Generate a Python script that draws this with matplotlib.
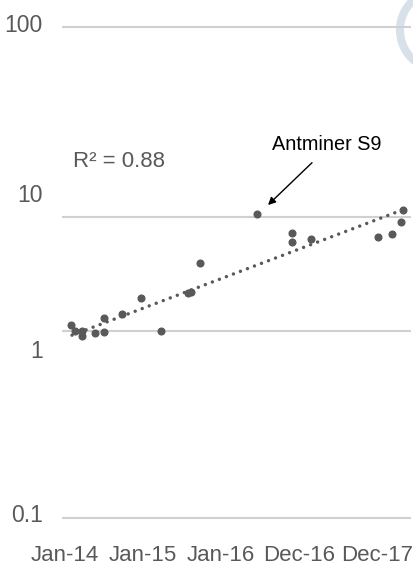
import matplotlib
matplotlib.use("Agg")
import matplotlib.pyplot as plt
from matplotlib.patches import Ellipse
import numpy as np
import pandas as pd

# miner efficiency points
dates = ["2014-01-29", "2014-02-17", "2014-03-20", "2014-03-23", "2014-05-21",
         "2014-07-04", "2014-07-04", "2014-09-23", "2014-12-23", "2015-03-26",
         "2015-07-30", "2015-08-13", "2015-09-25", "2016-06-16", "2016-11-27",
         "2016-11-27", "2017-02-25", "2018-01-06", "2018-03-10", "2018-04-21",
         "2018-05-03"]
values = [1.14, 1.00, 1.00, 0.94, 0.97,
          0.99, 1.30, 1.42, 1.93, 1.00,
          2.15, 2.21, 3.91, 10.3, 7.24,
          6.04, 6.38, 6.68, 7.01, 9.04,
          10.8]

# exponential trendline end points
trend_dates = ["2014-02-03", "2018-04-22"]
trend_values = [0.95, 10.8]

tick_dates = ["2014-01-01", "2015-01-01", "2016-01-01", "2016-12-31", "2017-12-31"]
tick_labels = ["Jan-14", "Jan-15", "Jan-16", "Dec-16", "Dec-17"]
y_ticks = [0.1, 1, 10, 100]
y_labels = ["0.1", "1", "10", "100"]

# the source image has unevenly spaced decades, so map them piecewise
dec = np.array([-2, -1, 0, 1, 2, 3])
pix = np.array([-186.7, 0, 186.7, 300.9, 490.7, 680.5])

def fwd(y):
    y = np.clip(np.asarray(y, dtype=float), 1e-6, None)
    return np.interp(np.log10(y), dec, pix)

def inv(p):
    return 10 ** np.interp(np.asarray(p, dtype=float), pix, dec)

grey = "#595959"
plt.rcParams['font.family'] = ['Liberation Sans', 'DejaVu Sans']

fig = plt.figure(figsize=(4.14, 5.69), dpi=100)
H = 569.0

# faint logo edge cut off at the top right of the source
fig.add_artist(Ellipse((4.40, 5.39), 0.80, 0.80, transform=fig.dpi_scale_trans,
                       fill=False, ec='#d8e0ea', lw=5.8, zorder=-1))

ax = fig.add_axes([62 / 414, (H - 519.7) / H, 349 / 414, 494.7 / H])
ax.patch.set_alpha(0)
ax.set_yscale('function', functions=(fwd, inv))
ax.set_ylim(inv(-2), inv(492.7))

x = pd.to_datetime(dates)
ax.plot(x, values, 'o', color=grey, ms=4.8, zorder=3)
ax.plot(pd.to_datetime(trend_dates), trend_values, color=grey, lw=2.5,
        linestyle=(0, (0.001, 2.16)), dash_capstyle='round', zorder=2)

ax.set_xlim(pd.Timestamp("2013-12-18"), pd.Timestamp("2018-06-08"))
ax.set_xticks(pd.to_datetime(tick_dates))
ax.set_xticklabels(tick_labels, fontsize=16, color=grey)
ax.tick_params(axis='x', length=0, pad=18)

ax.set_yticks(y_ticks)
ax.set_yticklabels([])
ax.yaxis.set_minor_locator(matplotlib.ticker.NullLocator())
ax.tick_params(axis='y', length=0)
ax.grid(axis='y', color='#d0d0d0', lw=1.5)
ax.grid(axis='x', visible=False)
for s in ax.spines.values():
    s.set_visible(False)

# y labels sit offset from their gridlines in the source
label_y = [516, 352, 196, 25]
for lab, py in zip(y_labels, label_y):
    fig.text(43 / 414, 1 - py / H, lab, ha='right', va='center', fontsize=16.5, color=grey)

fig.text(119.5 / 414, 1 - 161 / H, "R² = 0.88", ha='center', va='center', fontsize=16, color=grey)
fig.text(327 / 414, 1 - 145 / H, "Antminer S9", ha='center', va='center', fontsize=14.3, color='black')
ax.annotate("", xy=(268, H - 205), xycoords='figure pixels',
            xytext=(312, H - 162.7), textcoords='figure pixels',
            arrowprops=dict(arrowstyle='-|>', color='black', lw=1, mutation_scale=11,
                            shrinkA=0, shrinkB=0))

fig.savefig("out.png", dpi=100)
